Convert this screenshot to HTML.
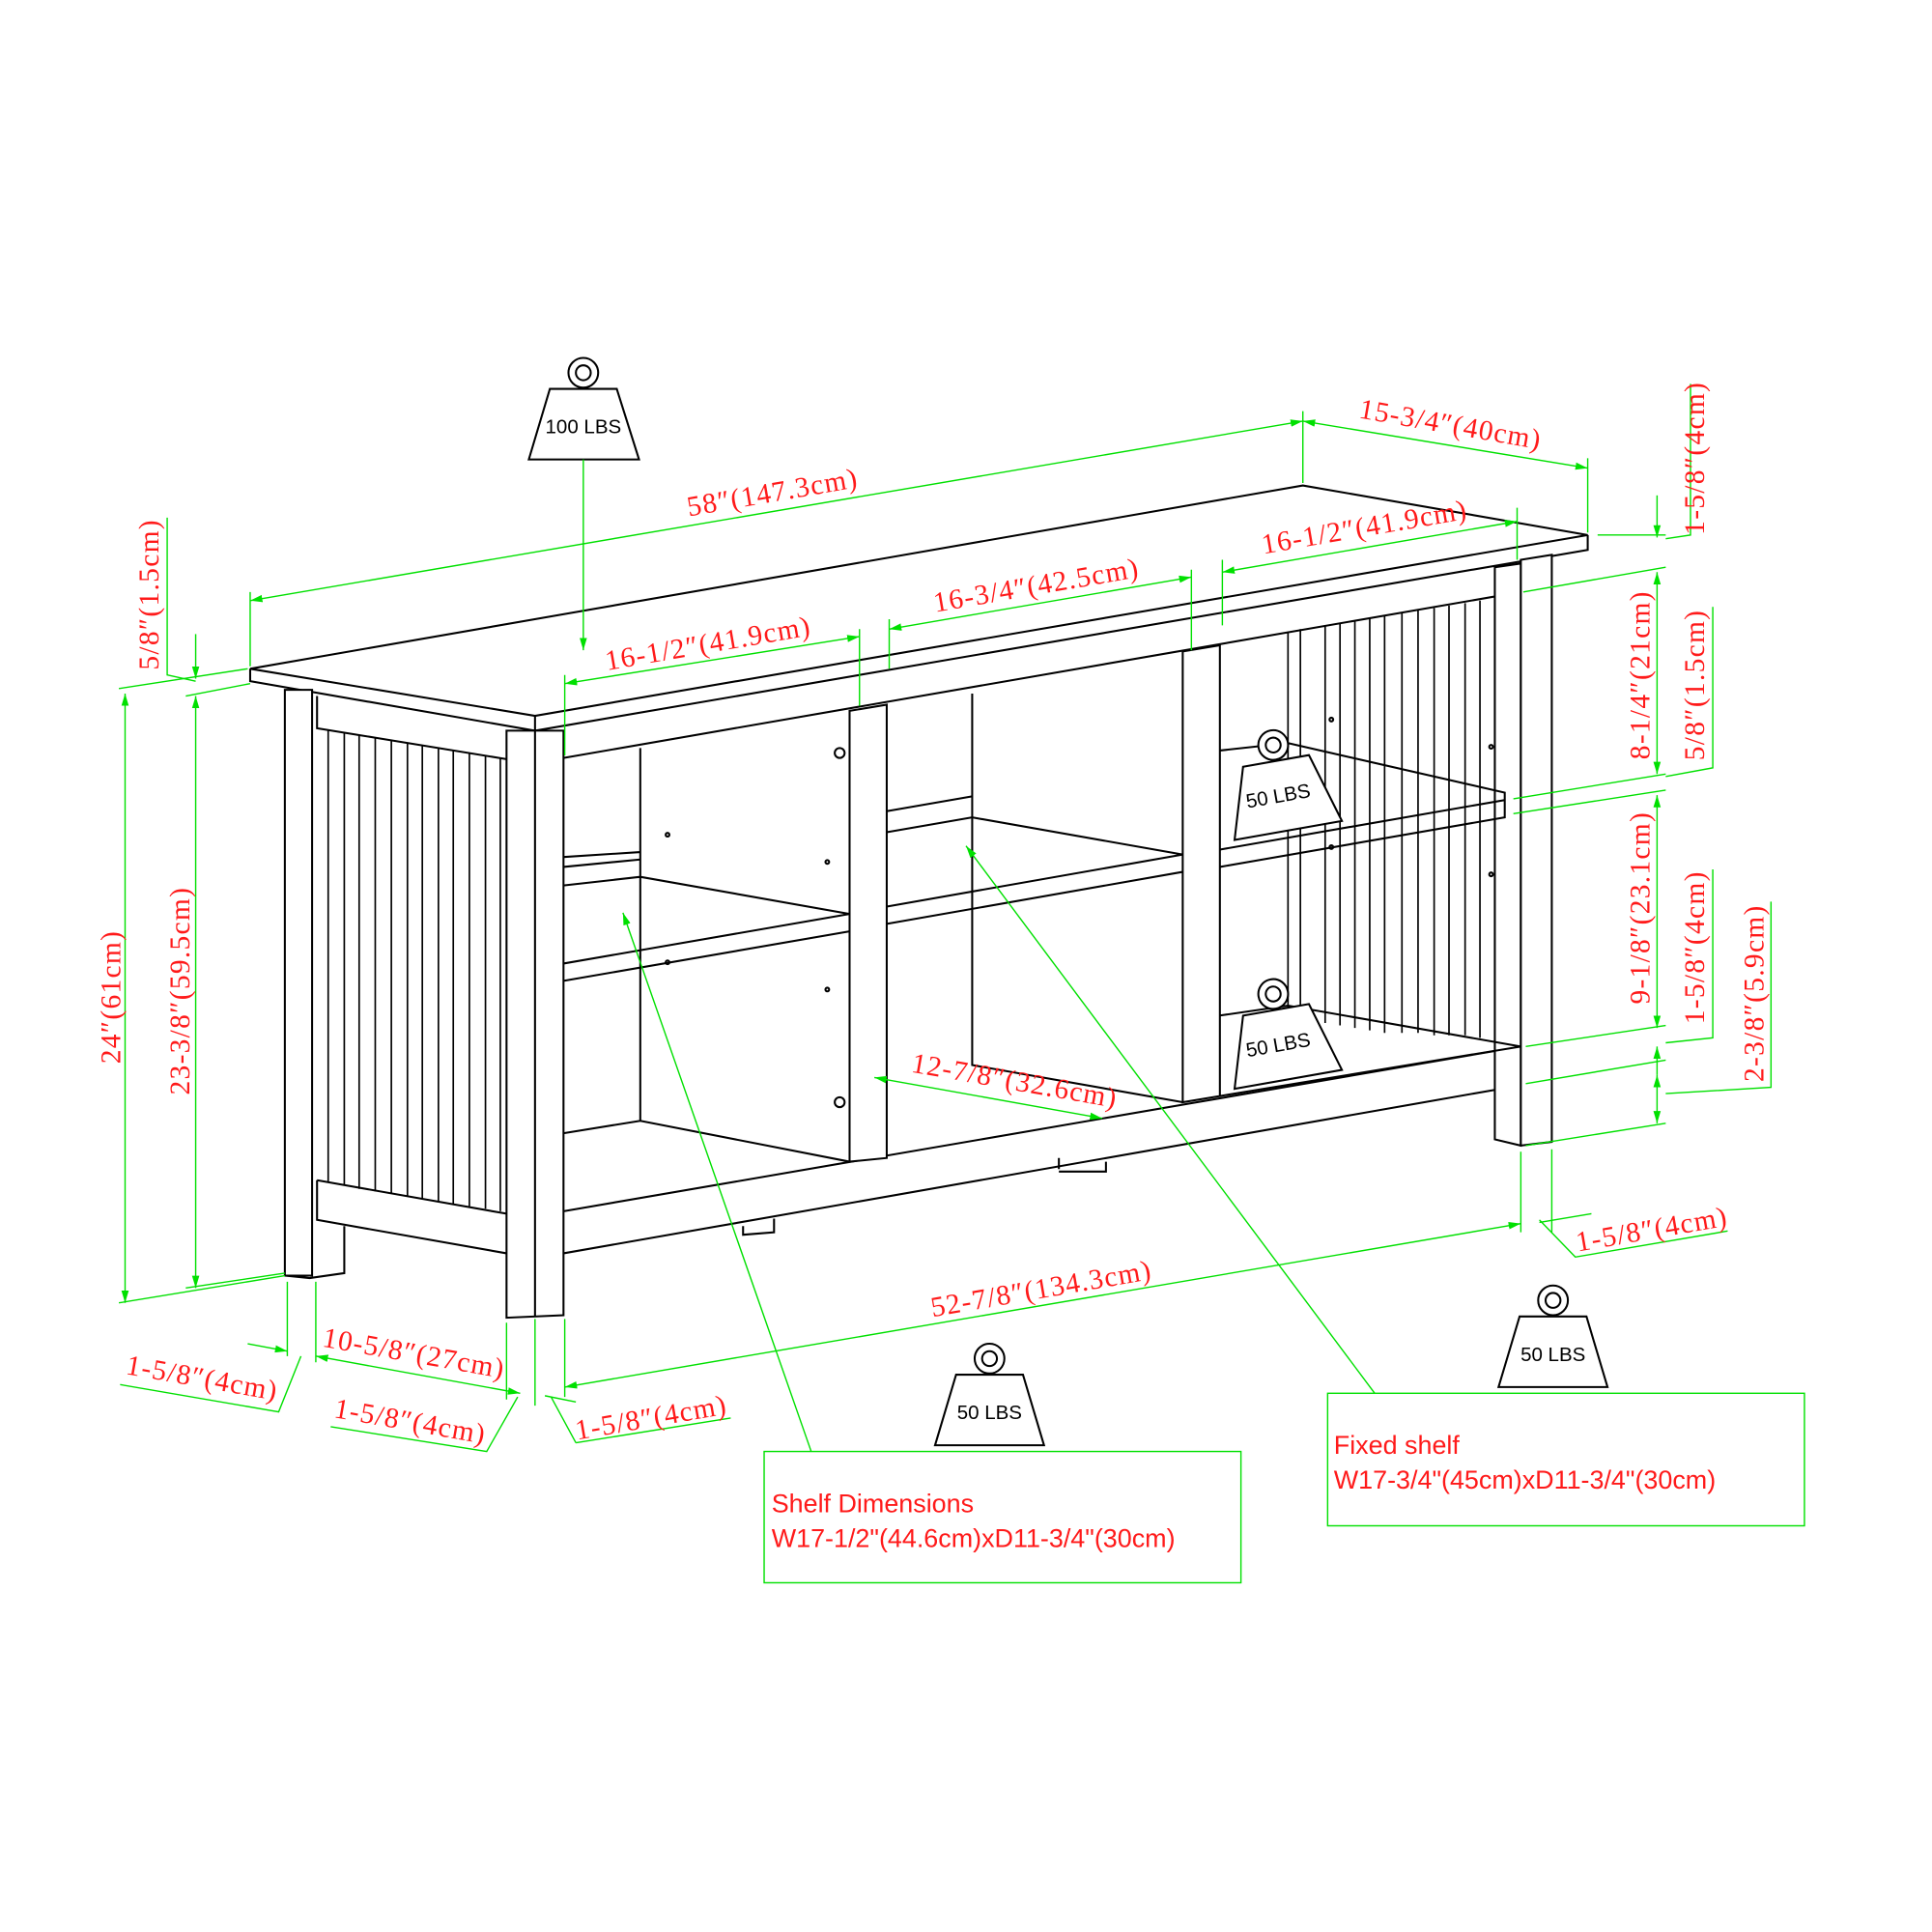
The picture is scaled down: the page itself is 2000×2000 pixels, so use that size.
<!DOCTYPE html>
<html><head><style>
html,body{margin:0;padding:0;background:#fff}
svg{display:block}
.k{stroke:#000;stroke-width:1.6;fill:none}
.kf{stroke:#000;stroke-width:1.6;fill:#fff}
.g{stroke:#00e000;stroke-width:1.1;fill:none}
.d{fill:#ff1a1a;font-family:"Liberation Serif",serif;font-size:23px;letter-spacing:1px}
.s{fill:#ff1a1a;font-family:"Liberation Sans",sans-serif;font-size:21px}
.w{fill:#000;font-family:"Liberation Sans",sans-serif;font-size:16px}
</style></head><body>
<svg width="2000" height="2000" viewBox="0 0 1560 1560" xmlns="http://www.w3.org/2000/svg">
<defs>
<marker id="a" viewBox="0 0 10 10" refX="10" refY="5" markerWidth="9" markerHeight="9" orient="auto-start-reverse"><path d="M0,2 L10,5 L0,8 z" fill="#00e000"/></marker>
</defs>
<rect width="1560" height="1560" fill="#fff"/>

<g class="k">
<path class="kf" d="M202,540 L1052,392 L1282,432 L432,578 Z"/>
<path d="M202,540 L202,550 L432,590 L1282,444 L1282,432 M432,578 L432,590"/>
<path class="kf" d="M230,557 L252,557 L252,1030 L230,1030 Z"/>
<path d="M230,1030 L250,1032 L278,1028 L278,990"/>
<path d="M256,562 L256,588 L409,613 M256,953 L409,980 M256,953 L256,985 L409,1012"/>
<g stroke-width="1.3">
<path d="M265,590 V955 M278,592 V957 M290,594 V960 M303,596 V962 M316,598 V964 M329,600 V966 M341,602 V968 M354,604 V970 M366,606 V972 M379,608 V974 M392,610 V976 M404,612 V978"/>
</g>
<path class="kf" d="M409,590 L455,590 L455,1062 L409,1064 Z"/>
<path d="M432,590 V1063"/>
<path d="M455,612 L1228,478 M1228,452 L1228,845 M455,978 L1228,845 M455,1012 L1207,880"/>
<path class="kf" d="M1207,458 L1228,455 L1228,925 L1207,920 Z"/>
<path class="kf" d="M1228,452 L1253,448 L1253,922 L1228,925 Z"/>
<g stroke-width="1.3">
<path d="M1040,510 V822 M1050,508 V824 M1070,505 V826 M1082,503 V828 M1094,501 V830 M1106,499 V832 M1118,497 V834 M1132,495 V834 M1145,493 V834 M1158,491 V836 M1170,489 V836 M1183,487 V836 M1195,485 V838"/>
</g>
<path class="kf" d="M686,574 L716,569 L716,935 L686,938 Z"/>
<path class="kf" d="M955,526 L985,521 L985,885 L955,890 Z"/>
<path d="M517,604 V905 M455,692 L517,688 M455,700 L517,694 M455,715 L517,708 L686,738 M455,778 L686,738 M455,792 L686,752 M455,915 L517,905 L686,938 M785,560 V860 L955,890"/>
<path d="M716,655 L785,643 M716,672 L785,660 L955,690 M716,732 L955,690 M716,746 L955,704"/>
<path d="M985,606 L1040,600 M985,686 L1215,646 L1215,660 L985,700 M1040,600 L1215,640 L1215,646 M985,820 L1040,812 L1228,845 M985,885 L1228,845"/>
<path d="M855,944 L855,935 M893,938 L893,946 L855,946 M600,990 L600,997 L625,995 L625,984"/>
<circle cx="678" cy="608" r="4"/><circle cx="678" cy="890" r="4"/>
<circle cx="539" cy="674" r="1.5"/><circle cx="668" cy="696" r="1.5"/><circle cx="539" cy="777" r="1.5"/><circle cx="668" cy="799" r="1.5"/>
<circle cx="1075" cy="581" r="1.5"/><circle cx="1204" cy="603" r="1.5"/><circle cx="1075" cy="684" r="1.5"/><circle cx="1204" cy="706" r="1.5"/>
</g>

<g class="k">
<circle cx="471" cy="301" r="12"/><circle cx="471" cy="301" r="6"/>
<path d="M444,314 L498,314 L516,371 L427,371 Z"/>
<circle cx="1254" cy="1050" r="12"/><circle cx="1254" cy="1050" r="6"/>
<path d="M1227,1063 L1281,1063 L1298,1120 L1210,1120 Z"/>
<circle cx="799" cy="1097" r="12"/><circle cx="799" cy="1097" r="6"/>
<path d="M772,1110 L826,1110 L843,1167 L755,1167 Z"/>
<g transform="translate(1035,641) rotate(-10)"><circle cx="0" cy="-40" r="12" fill="#fff"/><circle cx="0" cy="-40" r="6"/><path d="M-27,-27 L27,-27 L44,30 L-44,30 Z" fill="#fff"/></g>
<g transform="translate(1035,842) rotate(-10)"><circle cx="0" cy="-40" r="12" fill="#fff"/><circle cx="0" cy="-40" r="6"/><path d="M-27,-27 L27,-27 L44,30 L-44,30 Z" fill="#fff"/></g>
</g>
<text class="w" x="471" y="350" text-anchor="middle">100 LBS</text>
<text class="w" x="1254" y="1099" text-anchor="middle">50 LBS</text>
<text class="w" x="799" y="1146" text-anchor="middle">50 LBS</text>
<text class="w" transform="translate(1033,648) rotate(-10)" text-anchor="middle">50 LBS</text>
<text class="w" transform="translate(1033,849) rotate(-10)" text-anchor="middle">50 LBS</text>

<g class="g">
<path d="M471,371 V525" marker-end="url(#a)"/>
<path d="M202,485 L1052,340" marker-start="url(#a)" marker-end="url(#a)"/>
<path d="M202,478 V538 M1052,332 V390"/>
<path d="M1052,340 L1282,378" marker-start="url(#a)" marker-end="url(#a)"/>
<path d="M1282,370 V430"/>
<path d="M987,462 L1225,421" marker-start="url(#a)" marker-end="url(#a)"/>
<path d="M987,452 V505 M1225,410 V452"/>
<path d="M718,508 L962,466" marker-start="url(#a)" marker-end="url(#a)"/>
<path d="M718,500 V540 M962,460 V525"/>
<path d="M456,552 L694,514" marker-start="url(#a)" marker-end="url(#a)"/>
<path d="M456,545 V610 M694,508 V570"/>
<path d="M706,870 L890,903" marker-start="url(#a)" marker-end="url(#a)"/>
<path d="M456,1120 L1228,988" marker-start="url(#a)" marker-end="url(#a)"/>
<path d="M456,1065 V1128 M1228,930 V995 M1253,928 V995 M432,1065 V1135 M409,1068 V1130 M232,1035 V1095 M255,1035 V1100"/>
<path d="M1243,987 L1285,980"/>
<path d="M1243,985 L1272,1015 L1395,994"/>
<path d="M255,1095 L420,1125" marker-start="url(#a)" marker-end="url(#a)"/>
<path d="M200,1085 L232,1091" marker-end="url(#a)"/>
<path d="M97,1118 L225,1140 L243,1095"/>
<path d="M267,1152 L393,1172 L418,1128"/>
<path d="M465,1165 L590,1145 M445,1128 L465,1165 M440,1127 L465,1132"/>
<path d="M101,560 V1052" marker-start="url(#a)" marker-end="url(#a)"/>
<path d="M96,556 L200,540 M96,1052 L230,1030"/>
<path d="M158,562 V1040" marker-start="url(#a)" marker-end="url(#a)"/>
<path d="M150,562 L202,552 M150,1040 L230,1028"/>
<path d="M158,512 V548" marker-end="url(#a)"/>
<path d="M135,418 V545 L158,550"/>
<path d="M1338,400 V434" marker-end="url(#a)"/>
<path d="M1338,462 V625" marker-start="url(#a)" marker-end="url(#a)"/>
<path d="M1338,642 V830" marker-start="url(#a)" marker-end="url(#a)"/>
<path d="M1338,845 V868" marker-start="url(#a)"/>
<path d="M1338,868 V907" marker-start="url(#a)" marker-end="url(#a)"/>
<path d="M1290,432 L1345,432 M1230,478 L1345,458 M1222,645 L1345,625 M1222,657 L1345,638 M1232,845 L1345,828 M1232,875 L1345,856 M1232,925 L1345,907"/>
<path d="M1365,310 V432 L1345,435 M1383,490 V620 L1345,627 M1383,702 V838 L1345,842 M1430,728 V878 L1345,883"/>
<rect x="617" y="1172" width="385" height="106"/>
<rect x="1072" y="1125" width="385" height="107"/>
<path d="M655,1172 L503,737" marker-end="url(#a)"/>
<path d="M1110,1125 L780,683" marker-end="url(#a)"/>
</g>

<text class="d" transform="translate(625,405) rotate(-9.8)" text-anchor="middle">58″(147.3cm)</text>
<text class="d" transform="translate(1170,350) rotate(9.9)" text-anchor="middle">15-3/4″(40cm)</text>
<text class="d" transform="translate(1103,433) rotate(-9.8)" text-anchor="middle">16-1/2″(41.9cm)</text>
<text class="d" transform="translate(838,480) rotate(-9.8)" text-anchor="middle">16-3/4″(42.5cm)</text>
<text class="d" transform="translate(573,527) rotate(-9.8)" text-anchor="middle">16-1/2″(41.9cm)</text>
<text class="d" transform="translate(818,880) rotate(10)" text-anchor="middle">12-7/8″(32.6cm)</text>
<text class="d" transform="translate(842,1048) rotate(-9.8)" text-anchor="middle">52-7/8″(134.3cm)</text>
<text class="d" transform="translate(1335,1000) rotate(-9.8)" text-anchor="middle">1-5/8″(4cm)</text>
<text class="d" transform="translate(333,1100) rotate(10)" text-anchor="middle">10-5/8″(27cm)</text>
<text class="d" transform="translate(162,1120) rotate(10)" text-anchor="middle">1-5/8″(4cm)</text>
<text class="d" transform="translate(330,1155) rotate(10)" text-anchor="middle">1-5/8″(4cm)</text>
<text class="d" transform="translate(527,1152) rotate(-9.8)" text-anchor="middle">1-5/8″(4cm)</text>
<text class="d" transform="translate(97,805) rotate(-90)" text-anchor="middle">24″(61cm)</text>
<text class="d" transform="translate(153,800) rotate(-90)" text-anchor="middle">23-3/8″(59.5cm)</text>
<text class="d" transform="translate(128,480) rotate(-90)" text-anchor="middle">5/8″(1.5cm)</text>
<text class="d" transform="translate(1376,370) rotate(-90)" text-anchor="middle">1-5/8″(4cm)</text>
<text class="d" transform="translate(1332,545) rotate(-90)" text-anchor="middle">8-1/4″(21cm)</text>
<text class="d" transform="translate(1376,553) rotate(-90)" text-anchor="middle">5/8″(1.5cm)</text>
<text class="d" transform="translate(1332,733) rotate(-90)" text-anchor="middle">9-1/8″(23.1cm)</text>
<text class="d" transform="translate(1376,765) rotate(-90)" text-anchor="middle">1-5/8″(4cm)</text>
<text class="d" transform="translate(1424,802) rotate(-90)" text-anchor="middle">2-3/8″(5.9cm)</text>
<text class="s" x="623" y="1221">Shelf Dimensions</text>
<text class="s" x="623" y="1249">W17-1/2"(44.6cm)xD11-3/4"(30cm)</text>
<text class="s" x="1077" y="1174">Fixed shelf</text>
<text class="s" x="1077" y="1202">W17-3/4"(45cm)xD11-3/4"(30cm)</text>
</svg>
</body></html>
